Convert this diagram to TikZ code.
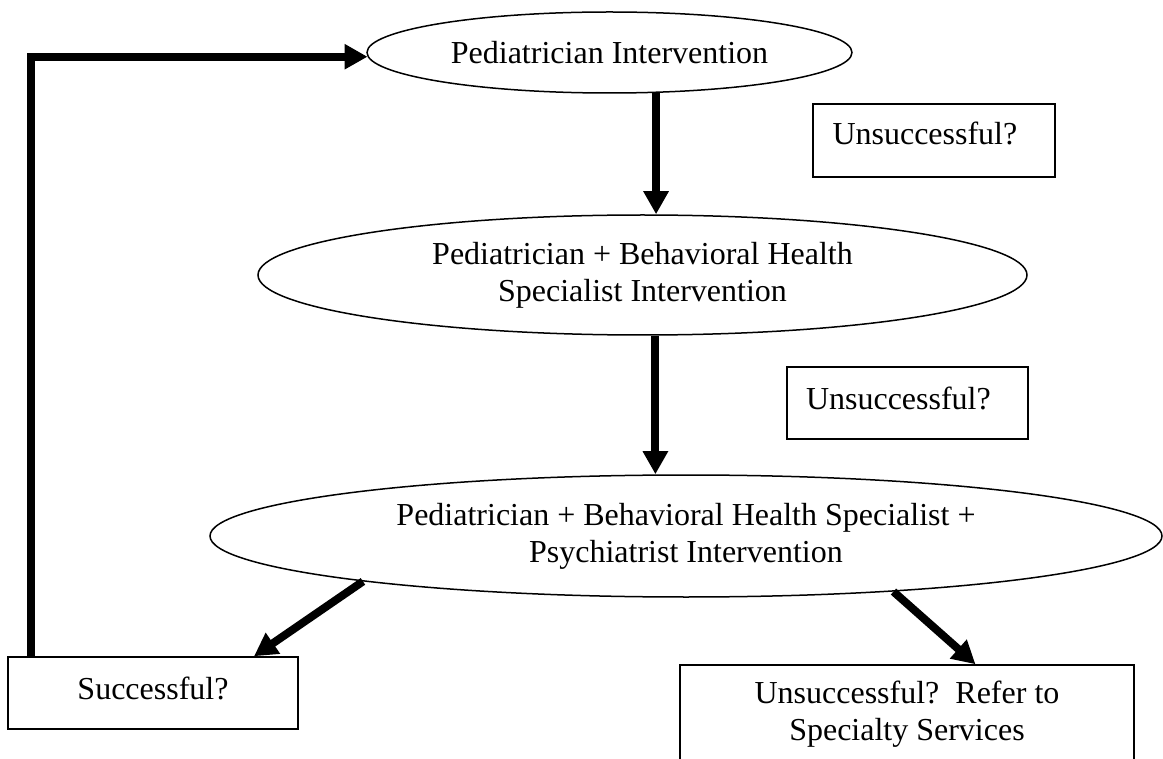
\documentclass[tikz,border=0pt]{standalone}
\usepackage{fontspec}
\setmainfont{Liberation Serif}
\usetikzlibrary{arrows.meta,shapes.geometric,calc}
\tikzset{
  flow/.style={-{Triangle[length=23pt,width=24pt]}, line width=8pt},
  stage/.style={ellipse, draw, line width=1.5pt, align=center, inner sep=0pt, font=\fontsize{32}{37}\selectfont},
  query/.style={rectangle, draw, line width=1.5pt, align=center, font=\fontsize{32}{37}\selectfont},
  leftq/.style={query, text width=203pt, align=left, text depth=14pt}
}

\begin{document}
\begin{tikzpicture}[x=1pt,y=-1pt]
  \clip (0,0) rectangle (1163,759);
  \node[stage, minimum width=485pt, minimum height=81pt] (pedi) at (609.5,52.5) {Pediatrician Intervention};
  \node[stage, minimum width=769pt, minimum height=120pt] (both) at (642.5,275) {Pediatrician + Behavioral Health\\Specialist Intervention};
  \node[stage, minimum width=952pt, minimum height=122pt] (all) at (686,536) {Pediatrician + Behavioral Health Specialist +\\Psychiatrist Intervention};
  \node[leftq, minimum width=242pt, minimum height=73pt] (unsa) at (934,140.5) {Unsuccessful?};
  \node[leftq, minimum width=241pt, minimum height=72pt, text depth=10pt] (unsb) at (907.5,403) {Unsuccessful?};
  \node[query, minimum width=290pt, minimum height=72pt, text depth=10pt] (succ) at (153,693) {Successful?};
  \node[query, minimum width=454pt, minimum height=98pt] (refer) at (907,714) {Unsuccessful?\ \ Refer to\\Specialty Services};

  \draw[flow] (pedi.-41) -- (pedi.-41 |- both.north);
  \draw[flow] (both.-78) -- (both.-78 |- all.north);
  \draw[flow] (all.188) -- (succ.20);
  \draw[flow] (all.-15) -- (refer.36);
  \draw[flow] ($(succ.north west)+(24,0)$) |- (pedi.181);
\end{tikzpicture}
\end{document}
